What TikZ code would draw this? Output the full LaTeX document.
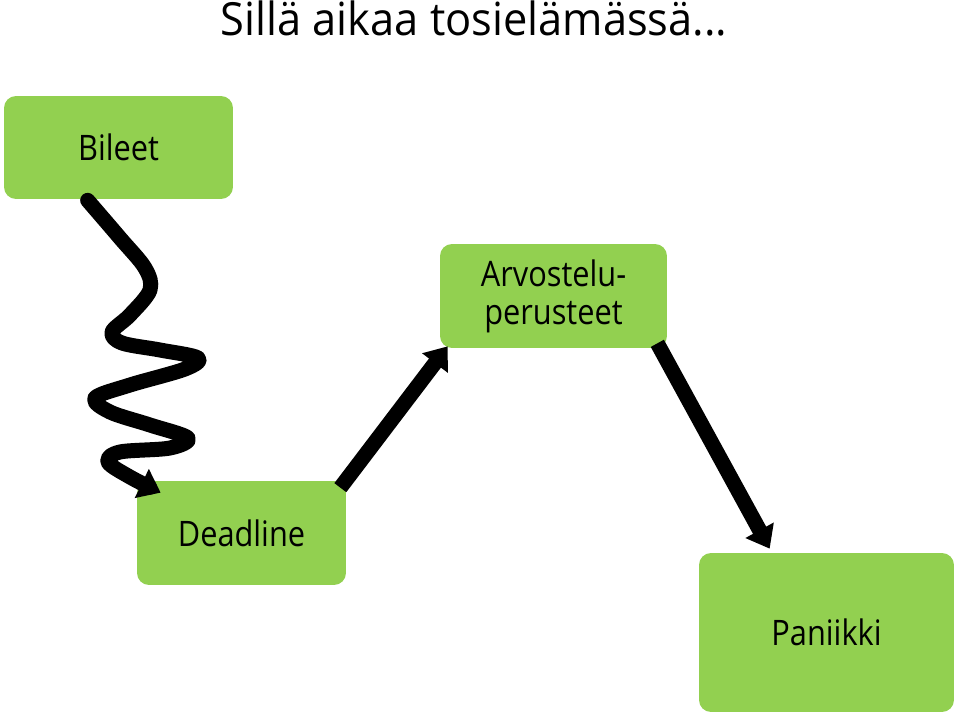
\documentclass[tikz,border=0pt]{standalone}
\usepackage{fontspec}
\setmainfont{Open Sans}
\newfontfamily\boxfont[FakeStretch=0.875]{Open Sans}
\newfontfamily\titlefont[FakeStretch=0.95]{Open Sans}
\usetikzlibrary{positioning, arrows.meta, calc}
\definecolor{boxgreen}{RGB}{146,208,80}
\tikzset{
  box/.style={fill=boxgreen, rounded corners=0.24cm, inner sep=0pt, align=center,
    font=\boxfont\fontsize{20}{21.5}\selectfont},
  conn/.style={line width=0.3cm, -{Triangle[length=0.42cm,width=0.62cm]}},
  wave/.style={conn, line join=round, line cap=round}
}

\begin{document}
\begin{tikzpicture} [x=0.02cm, y=0.02cm]
\useasboundingbox (0,0) rectangle (960,-716);
\node[anchor=base, font=\titlefont\fontsize{26}{30}\selectfont] (title) at (474,-36) {Sillä aikaa tosielämässä...};

\node[box, minimum width=4.58cm, minimum height=2.06cm] (bileet) at (118.5,-147.5) {Bileet};
\node[box, minimum width=4.54cm, minimum height=2.08cm] (arvo) at (553.5,-296) {Arvostelu-\\perusteet};
\node[box, minimum width=4.18cm, minimum height=2.08cm] (deadline) at (241.5,-533) {Deadline};
\node[box, minimum width=5.1cm, minimum height=3.18cm] (paniikki) at (826.5,-632.5) {Paniikki};

\coordinate (wstart) at ([xshift=1.68cm, yshift=-0.02cm]bileet.south west);
\coordinate (wend) at ([xshift=0.48cm, yshift=-0.24cm]deadline.north west);
\draw[wave] plot[smooth, tension=0.55] coordinates {(wstart) (120,-238) (145,-268) (150,-290)
  (130,-315) (112,-332) (122,-343) (160,-350) (198,-358) (185,-369) (130,-385) (95,-398)
  (110,-412) (150,-425) (188,-438) (170,-448) (120,-452) (108,-462) (130,-477) (wend)};

\draw[conn] ([xshift=-0.12cm, yshift=-0.14cm]deadline.north east) -- ([xshift=0.16cm, yshift=0.04cm]arvo.south west);
\draw[conn] ([xshift=-0.2cm, yshift=0.1cm]arvo.south east) -- ([xshift=1.42cm, yshift=0.08cm]paniikki.north west);
\end{tikzpicture}
\end{document}
